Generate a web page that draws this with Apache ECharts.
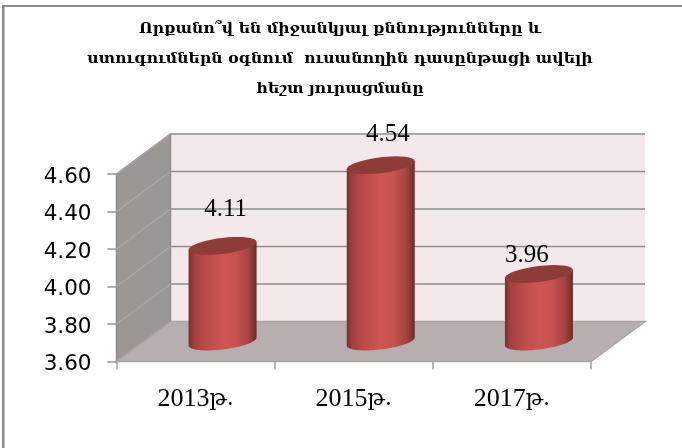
<!DOCTYPE html>
<html><head><meta charset="utf-8">
<style>html,body{margin:0;padding:0;background:#fff}#c{width:682px;height:448px}</style>
<script src="https://cdn.jsdelivr.net/npm/echarts@6/dist/echarts.min.js"></script>
</head><body><div id="c"></div>
<script>
const titleText = "Որքանո՞վ են միջանկյալ քննությունները և\nստուգումներն օգնում  ուսանողին դասընթացի ավելի\nհեշտ յուրացմանը";
const categories = ["2013թ.", "2015թ.", "2017թ."];
const values = [4.11, 4.54, 3.96];
const yTicks = [3.6, 3.8, 4.0, 4.2, 4.4, 4.6];
const labelShift = [[3, -36], [7, -31], [-12, -19]];
const depthX = 54, depthY = -40;
const SERIF = "'Liberation Serif','DejaVu Serif',serif";

const chart = echarts.init(document.getElementById('c'));

function wallItem(params, api) {
  const yMin = yTicks[0], yMax = yTicks[yTicks.length - 1];
  const b = params.coordSys;
  const xL = b.x, xR = b.x + b.width;
  const yB = api.coord([0, yMin])[1], yT = api.coord([0, yMax])[1];
  const kids = [];
  const line = '#8f8c8a';
  kids.push({type:'polygon',shape:{points:[[xL+depthX,yT+depthY],[xR+depthX,yT+depthY],[xR+depthX,yB+depthY],[xL+depthX,yB+depthY]]},style:{fill:'#f4e9ea'}});
  kids.push({type:'polygon',shape:{points:[[xL,yT],[xL+depthX,yT+depthY],[xL+depthX,yB+depthY],[xL,yB]]},style:{fill:'#9b9795',stroke:'#8f8c8a',lineWidth:1.5}});
  kids.push({type:'polygon',shape:{points:[[xL,yB],[xR,yB],[xR+depthX,yB+depthY],[xL+depthX,yB+depthY]]},style:{fill:'#b7afaf',stroke:'#a8a6a4',lineWidth:1.5}});
  yTicks.forEach(function (t, i) {
    const y = api.coord([0, t])[1];
    if (i > 0) {
      kids.push({type:'line',shape:{x1:xL,y1:y,x2:xL+depthX,y2:y+depthY},style:{stroke:'#a9a7a5',lineWidth:1.5}});
      kids.push({type:'line',shape:{x1:xL+depthX,y1:y+depthY,x2:xR+depthX,y2:y+depthY},style:{stroke:line,lineWidth:1.5}});
    }
  });
  return {type:'group',children:kids};
}

function ellipsePts(cx, cy, a, b, s, from, to) {
  const pts = [], n = 40;
  for (let i = 0; i <= n; i++) {
    const t = from + (to - from) * i / n;
    pts.push([cx + a * Math.cos(t), cy + b * Math.sin(t) - s * Math.cos(t)]);
  }
  return pts;
}

function barItem(params, api) {
  const idx = api.value(0), val = api.value(1);
  const top = api.coord([idx, val]), base = api.coord([idx, yTicks[0]]);
  const cx = top[0] + depthX / 2;
  const yTop = top[1] + depthY / 2, yBase = base[1] + depthY / 2;
  const a = api.size([1, 0])[0] * 0.215, b = 8, s = 4;
  const lower = ellipsePts(cx, yBase, a, b, s, 0, Math.PI);
  const body = [[cx + a, yTop - s]].concat(lower, [[cx - a, yTop + s]]);
  const grad = new echarts.graphic.LinearGradient(0, 0, 1, 0, [
    {offset:0,color:'#743030'},{offset:0.08,color:'#a04140'},{offset:0.25,color:'#ba4b49'},
    {offset:0.5,color:'#cd5653'},{offset:0.68,color:'#c95351'},{offset:0.88,color:'#a64342'},{offset:1,color:'#6b2a29'}
  ]);
  const shift = labelShift[idx];
  return {type:'group',children:[
    {type:'polygon',shape:{points:body},style:{fill:grad}},
    {type:'polygon',shape:{points:ellipsePts(cx, yTop, a, b, s, 0, Math.PI * 2)},style:{fill:'#8e3b3a'}},
    {type:'text',x:cx + shift[0],y:yTop + shift[1],style:{text:val.toFixed(2),fill:'#000',font:"25px " + SERIF,align:'center',verticalAlign:'middle'}}
  ]};
}

chart.setOption({
  animation:false,
  backgroundColor:'#fff',
  title:{text:titleText,left:335,top:9,textAlign:'center',
    textStyle:{fontFamily:"'DejaVu Serif',serif",fontWeight:'bold',fontSize:15.7,lineHeight:30,color:'#000'}},
  graphic:[
    {type:'rect',silent:true,shape:{x:2,y:5,width:680,height:2},style:{fill:'#8c8c8c'}},
    {type:'rect',silent:true,shape:{x:2,y:5,width:2.5,height:443},style:{fill:'#8c8c8c'}}
  ],
  grid:{left:116.5,right:91,top:174,bottom:86.5},
  xAxis:{type:'category',data:categories,boundaryGap:true,
    axisLine:{show:false},
    axisTick:{show:true,length:8,alignWithLabel:false,lineStyle:{color:'#a0a0a0',width:1.5}},
    axisLabel:{margin:25,color:'#000',
      formatter:function(v){return v.slice(0,4)+'{s|'+v.slice(4)+'}';},
      fontFamily:SERIF,fontSize:26,
      rich:{s:{fontFamily:"'DejaVu Serif',serif",fontSize:22,color:'#000'}}}},
  yAxis:{type:'value',min:3.6,max:4.6,interval:0.2,
    axisLine:{show:true,lineStyle:{color:'#8f8c8a',width:1.5}},splitLine:{show:false},
    axisTick:{show:true,inside:false,length:9,lineStyle:{color:'#969696',width:1.5}},
    axisLabel:{margin:25,formatter:function(v){return '{a|'+v.toFixed(2)+'}';},color:'#000',
      rich:{a:{fontFamily:"'DejaVu Sans',sans-serif",fontSize:21.5,color:'#000',padding:[6,0,0,0]}}}},
  series:[
    {type:'custom',z:1,silent:true,data:[[0,yTicks[0]]],renderItem:wallItem,clip:false,encode:{x:0,y:1}},
    {type:'custom',z:2,silent:true,data:values.map(function(v,i){return [i,v];}),renderItem:barItem,clip:false,encode:{x:0,y:1}}
  ]
});
</script></body></html>
